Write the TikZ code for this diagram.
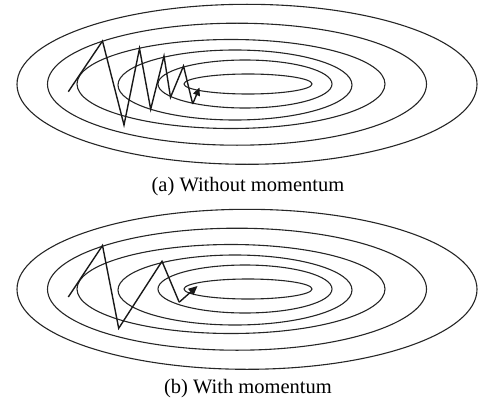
\documentclass[tikz,border=0pt]{standalone}
\usepackage{fontspec}
\setmainfont{Liberation Serif}
\usetikzlibrary{arrows.meta}
\begin{document}
\begin{tikzpicture}[x=1pt,y=-1pt,
  contour/.style={line width=1.1pt, black!85},
  pathline/.style={line width=1.4pt, black!90, line join=miter},
  caption/.style={font=\fontsize{20.5}{24}\selectfont, inner sep=0pt, anchor=base}]
\useasboundingbox (0,0) rectangle (478,401);
% ---------- panel (a) ----------
\begin{scope}
\draw[contour] (247,84.3) ellipse [x radius=230pt, y radius=80pt];
\draw[contour] (237,84.2) ellipse [x radius=189.5pt, y radius=61pt];
\draw[contour] (231,84) ellipse [x radius=154pt, y radius=44.5pt];
\draw[contour] (235,85) ellipse [x radius=117pt, y radius=35pt];
\draw[contour] (245,84) ellipse [x radius=87pt, y radius=24pt];
\draw[contour] (248,84) ellipse [x radius=64pt, y radius=10pt];
\end{scope}
\coordinate (a0) at (68.3,91.7);
\coordinate (a1) at (102.5,41);
\coordinate (a2) at (124,125);
\coordinate (a3) at (139.5,48.5);
\coordinate (a4) at (150.7,109.3);
\coordinate (a5) at (164,56);
\coordinate (a6) at (170.5,97.3);
\coordinate (a7) at (183.5,66);
\coordinate (a8) at (192.7,104);
\coordinate (a9) at (199.5,87.5);
\draw[pathline] (a0) -- (a1) -- (a2) -- (a3) -- (a4) -- (a5) -- (a6) -- (a7) -- (a8);
\draw[pathline, -{Triangle[length=8pt,width=7pt]}] (a8) -- (a9);
\node[caption] (capa) at (248,191) {(a) Without momentum};
% ---------- panel (b) ----------
\begin{scope}[yshift=-205pt]
\draw[contour] (247,84.3) ellipse [x radius=230pt, y radius=80pt];
\draw[contour] (237,84.2) ellipse [x radius=189.5pt, y radius=61pt];
\draw[contour] (231,84) ellipse [x radius=154pt, y radius=44.5pt];
\draw[contour] (235,85) ellipse [x radius=117pt, y radius=35pt];
\draw[contour] (245,84) ellipse [x radius=87pt, y radius=24pt];
\draw[contour] (248,84) ellipse [x radius=64pt, y radius=10pt];
\end{scope}
\coordinate (b0) at (68.3,297);
\coordinate (b1) at (102.5,245.5);
\coordinate (b2) at (118.7,328.3);
\coordinate (b3) at (162,261.3);
\coordinate (b4) at (179.2,302.2);
\coordinate (b5) at (197.5,286);
\draw[pathline] (b0) -- (b1) -- (b2) -- (b3) -- (b4);
\draw[pathline, -{Triangle[length=9pt,width=8pt]}] (b4) -- (b5);
\node[caption] (capb) at (248,393) {(b) With momentum};
\end{tikzpicture}
\end{document}
